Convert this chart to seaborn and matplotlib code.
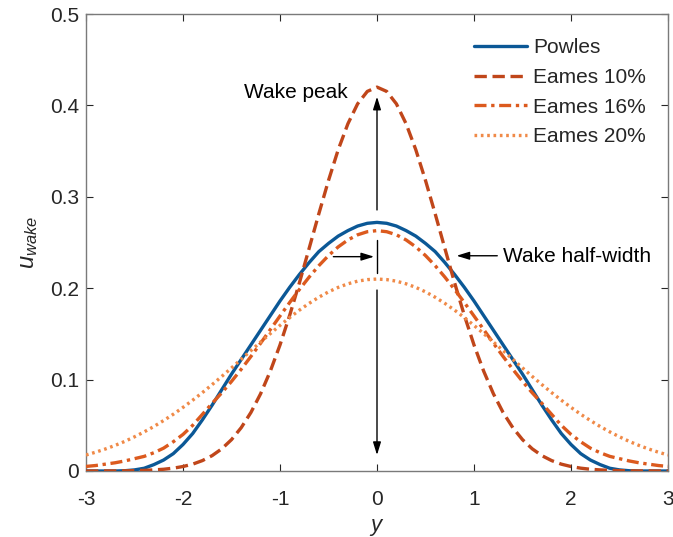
import numpy as np
import pandas as pd
import matplotlib
matplotlib.use("Agg")
import matplotlib.pyplot as plt
import seaborn as sns

# half profiles (y >= 0); curves are symmetric about y = 0
y_half = [0.0, 0.1, 0.2, 0.3, 0.4, 0.5, 0.6, 0.7, 0.8, 0.9, 1.0,
          1.1, 1.2, 1.3, 1.4, 1.5, 1.6, 1.7, 1.8, 1.9, 2.0,
          2.1, 2.2, 2.3, 2.4, 2.5, 2.6, 2.7, 2.8, 2.9, 3.0]
powles = [0.272, 0.271, 0.268, 0.263, 0.257, 0.249, 0.240, 0.228, 0.215, 0.201, 0.186,
          0.170, 0.154, 0.138, 0.122, 0.106, 0.089, 0.072, 0.056, 0.041, 0.029,
          0.019, 0.012, 0.007, 0.003, 0.0012, 0.0003, 0.0, 0.0, 0.0, 0.0]
eames10 = [0.4200, 0.4153, 0.4017, 0.3799, 0.3515, 0.3179, 0.2813, 0.2434, 0.2059, 0.1704, 0.1379,
           0.1092, 0.0845, 0.0640, 0.0474, 0.0343, 0.0243, 0.0168, 0.0114, 0.0075, 0.0049,
           0.0031, 0.0019, 0.0012, 0.0007, 0.0004, 0.0002, 0.0001, 0.0001, 0.0, 0.0]
eames16 = [0.2630, 0.2618, 0.2584, 0.2528, 0.2452, 0.2357, 0.2246, 0.2121, 0.1986, 0.1844, 0.1696,
           0.1547, 0.1398, 0.1253, 0.1113, 0.0980, 0.0856, 0.0740, 0.0620, 0.0500, 0.0400,
           0.0320, 0.0250, 0.0200, 0.0160, 0.0135, 0.0110, 0.0090, 0.0075, 0.0060, 0.0050]
eames20 = [0.2100, 0.2094, 0.2077, 0.2048, 0.2009, 0.1960, 0.1901, 0.1834, 0.1760, 0.1679, 0.1593,
           0.1503, 0.1411, 0.1317, 0.1222, 0.1128, 0.1035, 0.0945, 0.0858, 0.0775, 0.0696,
           0.0621, 0.0552, 0.0487, 0.0428, 0.0374, 0.0324, 0.0280, 0.0241, 0.0206, 0.0175]

labels = ["Powles", "Eames 10%", "Eames 16%", "Eames 20%"]
colors = ["#0b5896", "#c0461a", "#dc5a1e", "#f08a48"]
xticks = [-3, -2, -1, 0, 1, 2, 3]
yticks = [0, 0.1, 0.2, 0.3, 0.4, 0.5]
ytick_labels = ["0", "0.1", "0.2", "0.3", "0.4", "0.5"]

def mirror(v):
    v = np.asarray(v, dtype=float)
    return np.concatenate([v[:0:-1], v])

y_full = np.concatenate([-np.asarray(y_half)[:0:-1], y_half])
frames = []
for lab, vals in zip(labels, [powles, eames10, eames16, eames20]):
    frames.append(pd.DataFrame({"y": y_full, "u": mirror(vals), "model": lab}))
df = pd.concat(frames, ignore_index=True)

sns.set_style("ticks")
plt.rcParams["font.family"] = ["Liberation Sans", "DejaVu Sans"]
plt.rcParams["mathtext.fontset"] = "custom"
plt.rcParams["mathtext.it"] = "Liberation Sans:italic"
plt.rcParams["mathtext.rm"] = "Liberation Sans"

FS = 15

fig = plt.figure(figsize=(6.73, 5.37), dpi=100)
ax = fig.add_axes([86 / 673, 66 / 537, 582 / 673, 457 / 537])

dashes = {"Powles": "", "Eames 10%": (3.7, 1.7), "Eames 16%": (3.6, 1.4, 1.0, 1.4),
          "Eames 20%": (0.8, 1.1)}
sns.lineplot(data=df, x="y", y="u", hue="model", style="model",
             hue_order=labels, style_order=labels, palette=colors,
             dashes=dashes, linewidth=2.4, sort=False, ax=ax, zorder=3)

ax.set_xlim(-3, 3)
ax.set_ylim(0, 0.5)
ax.set_xticks(xticks)
ax.set_xticklabels([str(t) for t in xticks])
ax.set_yticks(yticks)
ax.set_yticklabels(ytick_labels)
ax.tick_params(direction="in", top=True, right=True, length=5, width=0.8,
               labelsize=FS, colors="#262626")
ax.tick_params(axis="x", pad=13.5)
ax.tick_params(axis="y", pad=5)
for s in ax.spines.values():
    s.set_color("#7a7a7a")
    s.set_linewidth(1.0)
ax.set_xlabel("$y$", fontsize=FS + 1, color="#262626", labelpad=6)
ax.set_ylabel("$u_{wake}$", fontsize=FS + 2, color="#262626", labelpad=7)

# annotations
arr = dict(arrowstyle="-|>,head_length=0.55,head_width=0.17", color="k", lw=1.0,
           shrinkA=0, shrinkB=0, mutation_scale=14)
ax.annotate("", xy=(0, 0.4095), xytext=(0, 0.2856), arrowprops=arr, zorder=2)
ax.plot([0, 0], [0.2527, 0.2166], color="k", lw=1.0, zorder=2)
ax.annotate("", xy=(0, 0.0175), xytext=(0, 0.198), arrowprops=arr, zorder=2)
ax.annotate("", xy=(-0.03, 0.2345), xytext=(-0.45, 0.2345), arrowprops=arr, zorder=2)
ax.annotate("", xy=(0.82, 0.2355), xytext=(1.24, 0.2355), arrowprops=arr, zorder=2)
ax.text(-1.37, 0.4136, "Wake peak", fontsize=FS, va="center", ha="left", color="k")
ax.text(1.30, 0.235, "Wake half-width", fontsize=FS, va="center", ha="left", color="k")

leg = ax.legend(loc="upper left", bbox_to_anchor=((474 - 86) / 582, (471 - 38) / 457),
                frameon=False, fontsize=FS, handlelength=2.55, handletextpad=0.3,
                labelspacing=0.52, borderaxespad=0, borderpad=0)

fig.savefig("out.png", dpi=100)
